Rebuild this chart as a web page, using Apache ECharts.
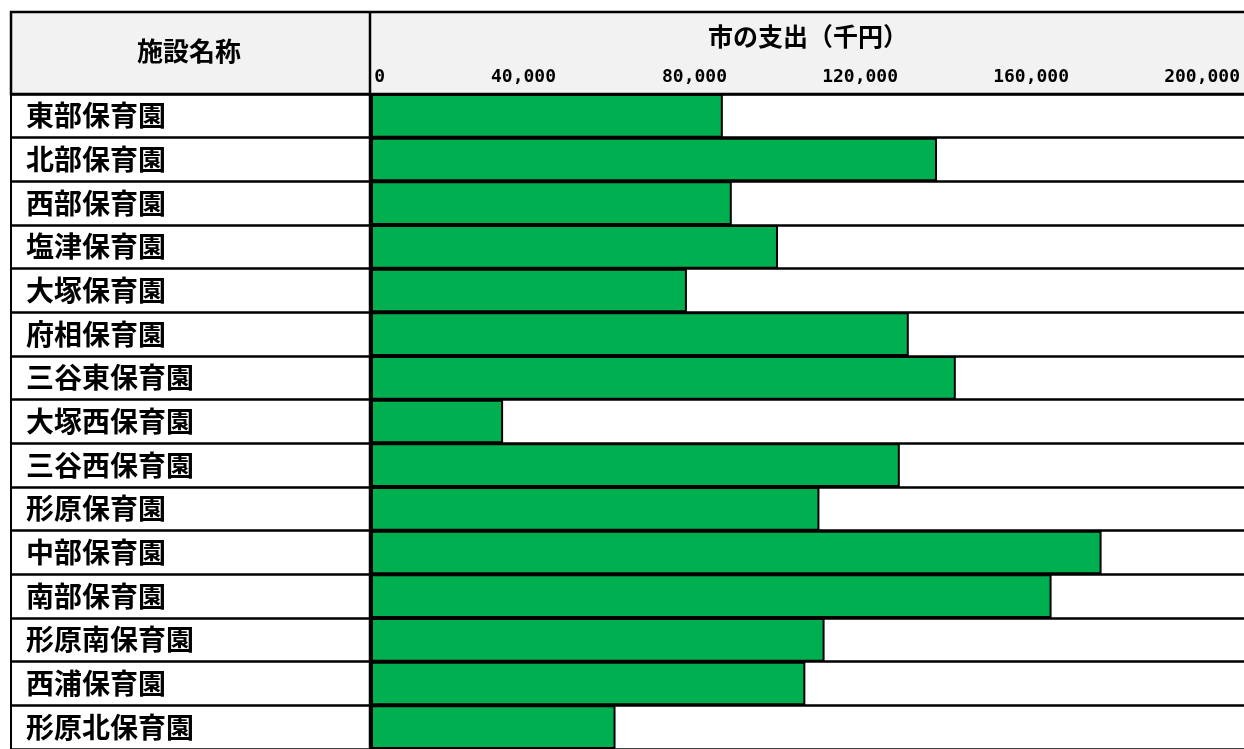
<!DOCTYPE html>
<html>
<head>
<meta charset="utf-8">
<script src="https://cdn.jsdelivr.net/npm/echarts@6/dist/echarts.min.js"></script>
<style>
html,body{margin:0;padding:0;background:#fff;}
#chart{width:1244px;height:749px;}
</style>
</head>
<body>
<div id="chart"></div>
<script>
const categories = ['東部保育園','北部保育園','西部保育園','塩津保育園','大塚保育園','府相保育園','三谷東保育園','大塚西保育園','三谷西保育園','形原保育園','中部保育園','南部保育園','形原南保育園','西浦保育園','形原北保育園'];
const spending = [82300, 132400, 84400, 95200, 73900, 125800, 136800, 30900, 123700, 104900, 170900, 159200, 106100, 101600, 57200];
const tickValues = [0, 40000, 80000, 120000, 160000, 200000];
const headerName = '施設名称';
const headerValue = '市の支出（千円）';

const chart = echarts.init(document.getElementById('chart'), null, {renderer: 'canvas'});
const jp = '"Noto Sans CJK JP", "Noto Sans", sans-serif';
chart.setOption({
  animation: false,
  backgroundColor: '#fff',
  grid: [
    {left: 11, top: 94, width: 1250, height: 660},
    {left: 371, top: 94, width: 855, height: 660},
    {left: 385, top: 94, width: 855, height: 660}
  ],
  xAxis: [
    {gridIndex: 0, type: 'value', min: 0, max: 1, show: false},
    {gridIndex: 1, type: 'value', min: tickValues[0], max: tickValues[tickValues.length - 1], show: false},
    {gridIndex: 2, type: 'value', position: 'top', min: tickValues[0], max: tickValues[tickValues.length - 1],
      interval: tickValues[1] - tickValues[0],
      axisLine: {show: false}, axisTick: {show: false}, splitLine: {show: false},
      axisLabel: {align: 'right', margin: 8, fontFamily: '"DejaVu Sans Mono", monospace', fontWeight: 'bold',
        fontSize: 18, color: '#000', showMinLabel: true, showMaxLabel: true,
        formatter: v => v.toLocaleString('en-US')}}
  ],
  yAxis: [
    {gridIndex: 0, type: 'category', data: categories, inverse: true,
      axisLine: {show: true, lineStyle: {color: '#000', width: 2}},
      axisTick: {show: false},
      splitLine: {show: true, interval: 0, lineStyle: {color: '#000', width: 2.5}},
      axisLabel: {inside: true, align: 'left', margin: 15, fontSize: 28, fontWeight: 'bold',
        fontFamily: jp, color: '#000', interval: 0, padding: [6, 0, 0, 0]}},
    {gridIndex: 1, type: 'category', data: categories, inverse: true, show: false},
    {gridIndex: 2, type: 'category', data: categories, inverse: true, show: false}
  ],
  series: [{
    type: 'bar', xAxisIndex: 1, yAxisIndex: 1, data: spending,
    barCategoryGap: '0%', silent: true, z: 3,
    itemStyle: {color: '#00AF50', borderColor: '#000', borderWidth: 2}
  }],
  graphic: [
    {type: 'rect', z: -10, shape: {x: 11, y: 12, width: 1250, height: 82},
      style: {fill: '#F2F2F2', stroke: '#000', lineWidth: 2.5}},
    {type: 'line', z: 100, shape: {x1: 370, y1: 12, x2: 370, y2: 760},
      style: {stroke: '#000', lineWidth: 2.5}},
    {type: 'text', z: 100, style: {text: headerName, x: 189, y: 51, align: 'center', verticalAlign: 'middle',
      font: 'bold 26px ' + jp, fill: '#000'}},
    {type: 'text', z: 100, style: {text: headerValue, x: 808, y: 36, align: 'center', verticalAlign: 'middle',
      font: 'bold 25px ' + jp, fill: '#000'}}
  ]
});
</script>
</body>
</html>
